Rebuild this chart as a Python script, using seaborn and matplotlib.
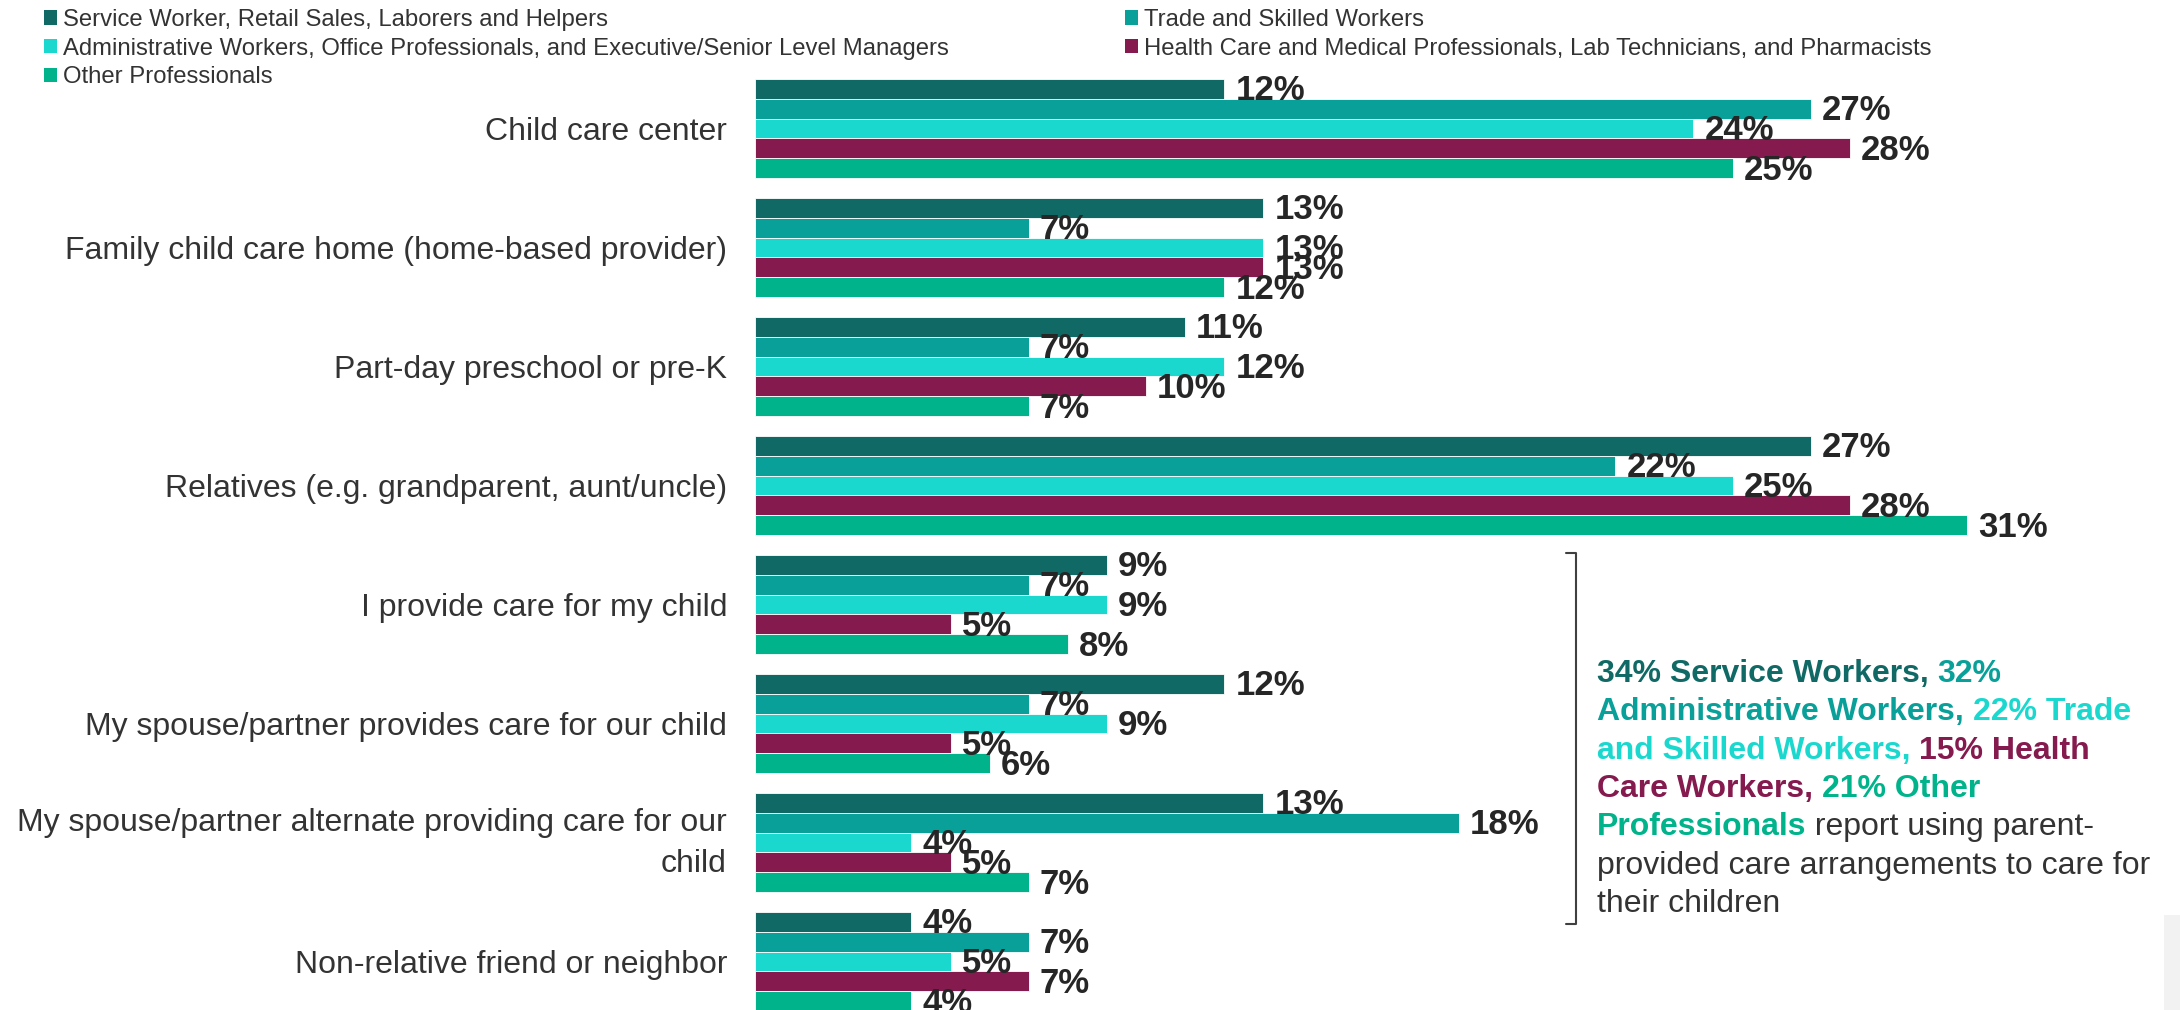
import matplotlib
matplotlib.use("Agg")
import numpy as np
import pandas as pd
import matplotlib.pyplot as plt
import seaborn as sns
from matplotlib.patches import Patch, Rectangle
from matplotlib.lines import Line2D
from matplotlib.offsetbox import TextArea, HPacker, VPacker, AnchoredOffsetbox

# ---- data ----
categories = [
	"Child care center",
	"Family child care home (home-based provider)",
	"Part-day preschool or pre-K",
	"Relatives (e.g. grandparent, aunt/uncle)",
	"I provide care for my child",
	"My spouse/partner provides care for our child",
	"My spouse/partner alternate providing care for our\nchild",
	"Non-relative friend or neighbor",
]
service = [12, 13, 11, 27, 9, 12, 13, 4]
trade = [27, 7, 7, 22, 7, 7, 18, 7]
admin = [24, 13, 12, 25, 9, 9, 4, 5]
health = [28, 13, 10, 28, 5, 5, 5, 7]
other = [25, 12, 7, 31, 8, 6, 7, 4]

series_names = [
	"Service Worker, Retail Sales, Laborers and Helpers",
	"Trade and Skilled Workers",
	"Administrative Workers, Office Professionals, and Executive/Senior Level Managers",
	"Health Care and Medical Professionals, Lab Technicians, and Pharmacists",
	"Other Professionals",
]
series_values = [service, trade, admin, health, other]
colors = ["#116966", "#0AA09A", "#1BD8CF", "#841A4E", "#00B38A"]
text_color = "#333333"

df = pd.DataFrame({
	"category": categories * len(series_names),
	"group": [name for name in series_names for _ in categories],
	"pct": [v for vals in series_values for v in vals],
})

sns.set_style("white")
plt.rcParams["font.family"] = ["Liberation Sans", "DejaVu Sans"]

W, H = 2180, 1010
fig = plt.figure(figsize=(W / 100, H / 100), dpi=100)

# axes: bars start at x=755 px, 39.1 px per percent, 119 px per category
ax_left = 755
px_per_pct = 39.1
px_per_cat = 119
first_center = 128.5
ax = fig.add_axes([ax_left / W, 0, (W - ax_left) / W, 1])

sns.barplot(data=df, y="category", x="pct", hue="group", hue_order=series_names,
			palette=colors, orient="h", width=0.832, ax=ax, legend=False,
			edgecolor="white", linewidth=0.6, saturation=1)

ax.set_xlim(0, (W - ax_left) / px_per_pct)
ax.set_ylim((H - first_center) / px_per_cat, -first_center / px_per_cat)

for container, vals in zip(ax.containers, series_values):
	anns = ax.bar_label(container, labels=[f"{v}%" for v in vals], padding=8,
						fontsize=25, fontweight="bold", color="#262626")
	for a in anns:
		a.xyann = (8, -1.5)

ax.set_xlabel("")
ax.set_ylabel("")
ax.set_xticks([])
ax.tick_params(axis="y", length=0, pad=20, labelsize=23, labelcolor=text_color)

# the two-line category label is drawn by hand so its line spacing matches
label_x = -28 / (W - ax_left)
tick_labels = [c if "\n" not in c else "" for c in categories]
ax.set_yticks(range(len(categories)), tick_labels)
for i, c in enumerate(categories):
	if "\n" in c:
		ax.text(label_x, i + 0.008, c, transform=ax.get_yaxis_transform(), ha="right",
				va="center", fontsize=23, color=text_color, linespacing=1.5)
for s in ax.spines.values():
	s.set_visible(False)

# legend in two columns, placed as two blocks
handles = [Patch(facecolor=c, edgecolor="none") for c in colors]
leg_kw = dict(frameon=False, fontsize=17.2, handlelength=0.55, handleheight=0.55,
			  handletextpad=0.25, labelspacing=0.28, borderpad=0, borderaxespad=0,
			  labelcolor=text_color, loc="upper left")
leg1 = fig.legend([handles[0], handles[2], handles[4]],
				  [series_names[0], series_names[2], series_names[4]],
				  bbox_to_anchor=(44 / W, 1 - 9 / H), **leg_kw)
leg2 = fig.legend([handles[1], handles[3]], [series_names[1], series_names[3]],
				  bbox_to_anchor=(1125 / W, 1 - 9 / H), **leg_kw)

# bracket next to the parent-provided categories
bx, top, bot = 1576, 553, 924
fig.add_artist(Line2D([(bx - 10) / W, bx / W, bx / W, (bx - 10) / W],
					  [1 - top / H, 1 - top / H, 1 - bot / H, 1 - bot / H],
					  transform=fig.transFigure, color="#404040", lw=1.5))

# coloured annotation text
ann_size = 23
def seg(text, color, bold=True):
	return TextArea(text, textprops=dict(color=color, fontsize=ann_size,
										 fontweight="bold" if bold else "normal"))

lines = [
	[seg("34% Service Workers, ", colors[0]), seg("32%", colors[1])],
	[seg("Administrative Workers, ", colors[1]), seg("22% Trade", colors[2])],
	[seg("and Skilled Workers, ", colors[2]), seg("15% Health", colors[3])],
	[seg("Care Workers, ", colors[3]), seg("21% Other", colors[4])],
	[seg("Professionals", colors[4]), seg(" report using parent-", text_color, False)],
	[seg("provided care arrangements to care for", text_color, False)],
	[seg("their children", text_color, False)],
]
rows = [HPacker(children=parts, align="baseline", pad=0, sep=0) for parts in lines]
block = VPacker(children=rows, align="left", pad=0, sep=6)
anchored = AnchoredOffsetbox(loc="upper left", child=block, pad=0, borderpad=0,
							 frameon=False, bbox_to_anchor=(1597 / W, 1 - 659 / H),
							 bbox_transform=fig.transFigure)
fig.add_artist(anchored)

# light grey slide element in the bottom-right corner
fig.add_artist(Rectangle((2164 / W, 0), 16 / W, 95 / H, transform=fig.transFigure,
						 facecolor="#f2f2f2", edgecolor="none"))

fig.savefig("out.png", dpi=100)
